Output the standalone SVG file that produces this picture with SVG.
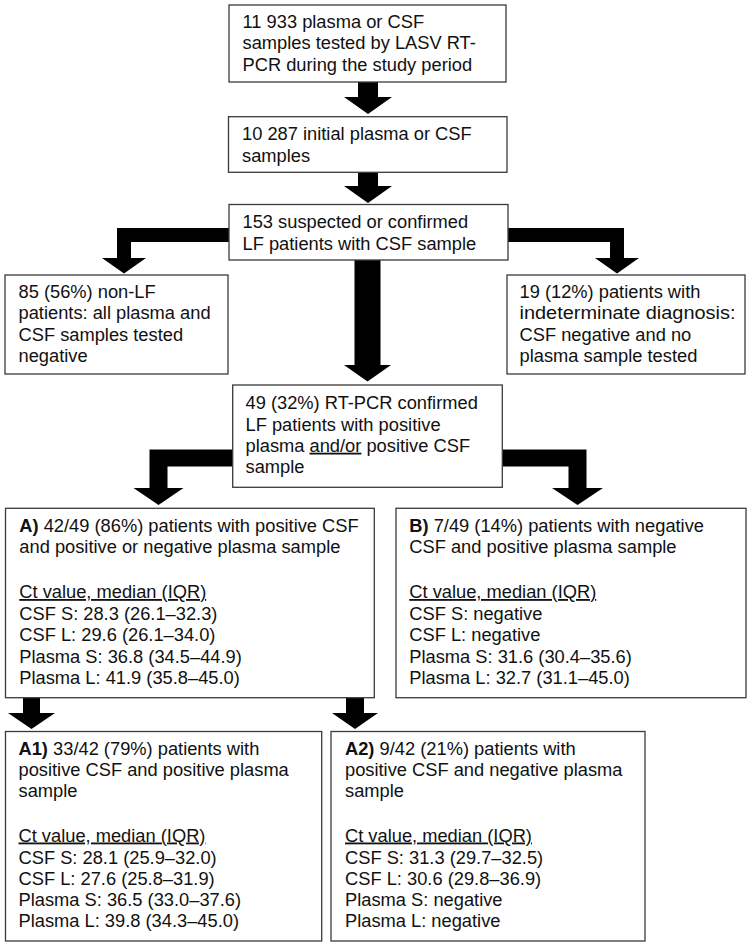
<svg xmlns="http://www.w3.org/2000/svg" width="750" height="946" viewBox="0 0 750 946">
<style>
  .box { fill: #ffffff; stroke: #3a3a3a; stroke-width: 1.3; }
  .t { font-family: "Liberation Sans", Arial, sans-serif; font-size: 18.3px; fill: #111111; }
  .b { font-weight: bold; }
  .u { text-decoration: underline; }
  .arr { fill: #000000; stroke: none; }
</style>
<rect width="750" height="946" fill="#ffffff"/>

<g id="connectors">
  <polygon class="arr" points="358,82 378,82 378,97 392,97 368,114 344,97 358,97"/>
  <polygon class="arr" points="358,172.3 378,172.3 378,186 392,186 368,203 344,186 358,186"/>
  <polygon class="arr" points="229,228 117,228 117,258 102,258 124,273.5 146,258 131,258 131,242 229,242"/>
  <polygon class="arr" points="508,228 624,228 624,258 639,258 617,273.5 595,258 610,258 610,242 508,242"/>
  <polygon class="arr" points="354.5,260 380.5,260 380.5,365 391,365 367.5,381.5 344,365 354.5,365"/>
  <polygon class="arr" points="232.7,449.5 149.5,449.5 149.5,488 133.5,488 158.5,505 183.5,488 167.5,488 167.5,466.5 232.7,466.5"/>
  <polygon class="arr" points="502.3,449.5 586.5,449.5 586.5,488 603,488 577.5,505 552,488 568.5,488 568.5,466.5 502.3,466.5"/>
  <polygon class="arr" points="23,697.7 40,697.7 40,713 55,713 31.5,729 8,713 23,713"/>
  <polygon class="arr" points="346,697.7 364,697.7 364,713 378,713 355,729 332,713 346,713"/>
</g>

<g id="n_tested">
  <rect class="box" x="229" y="5" width="277" height="77"/>
  <text class="t" x="242.5" y="27.7">11 933 plasma or CSF</text>
  <text class="t" x="242.5" y="49.2">samples tested by LASV RT-</text>
  <text class="t" x="242.5" y="70.7">PCR during the study period</text>
</g>

<g id="n_initial">
  <rect class="box" x="228.5" y="116.7" width="278.5" height="55.6"/>
  <text class="t" x="242" y="140">10 287 initial plasma or CSF</text>
  <text class="t" x="242" y="161.5">samples</text>
</g>

<g id="n_suspected">
  <rect class="box" x="229" y="204.5" width="279" height="55.5"/>
  <text class="t" x="242.5" y="228">153 suspected or confirmed</text>
  <text class="t" x="242.5" y="249.5">LF patients with CSF sample</text>
</g>

<g id="n_nonlf">
  <rect class="box" x="5" y="275" width="223" height="99"/>
  <text class="t" x="18.5" y="298">85 (56%) non-LF</text>
  <text class="t" x="18.5" y="319.3">patients: all plasma and</text>
  <text class="t" x="18.5" y="340.6">CSF samples tested</text>
  <text class="t" x="18.5" y="362">negative</text>
</g>

<g id="n_indeterminate">
  <rect class="box" x="507" y="275" width="238" height="99"/>
  <text class="t" x="519.5" y="298">19 (12%) patients with</text>
  <text class="t" x="519.5" y="319.3" textLength="216" lengthAdjust="spacingAndGlyphs">indeterminate diagnosis:</text>
  <text class="t" x="519.5" y="340.6">CSF negative and no</text>
  <text class="t" x="519.5" y="362">plasma sample tested</text>
</g>

<g id="n_confirmed">
  <rect class="box" x="232.7" y="385" width="269.6" height="102.3"/>
  <text class="t" x="245.5" y="409.3">49 (32%) RT-PCR confirmed</text>
  <text class="t" x="245.5" y="430.5">LF patients with positive</text>
  <text class="t" x="245.5" y="451.7">plasma <tspan class="u">and/or</tspan> positive CSF</text>
  <text class="t" x="245.5" y="473">sample</text>
</g>

<g id="n_A">
  <rect class="box" x="5.5" y="508.3" width="368.8" height="189.4"/>
  <text class="t" x="19.3" y="531.7"><tspan class="b">A)</tspan> 42/49 (86%) patients with positive CSF</text>
  <text class="t" x="19.3" y="553">and positive or negative plasma sample</text>
  <text class="t" x="19.3" y="598"><tspan class="u">Ct value, median (IQR)</tspan></text>
  <text class="t" x="19.3" y="620">CSF S: 28.3 (26.1–32.3)</text>
  <text class="t" x="19.3" y="641.3">CSF L: 29.6 (26.1–34.0)</text>
  <text class="t" x="19.3" y="662.6">Plasma S: 36.8 (34.5–44.9)</text>
  <text class="t" x="19.3" y="684">Plasma L: 41.9 (35.8–45.0)</text>
</g>

<g id="n_B">
  <rect class="box" x="396" y="508.3" width="350" height="189.4"/>
  <text class="t" x="409.3" y="531.7"><tspan class="b">B)</tspan> 7/49 (14%) patients with negative</text>
  <text class="t" x="409.3" y="553">CSF and positive plasma sample</text>
  <text class="t" x="409.3" y="598"><tspan class="u">Ct value, median (IQR)</tspan></text>
  <text class="t" x="409.3" y="620">CSF S: negative</text>
  <text class="t" x="409.3" y="641.3">CSF L: negative</text>
  <text class="t" x="409.3" y="662.6">Plasma S: 31.6 (30.4–35.6)</text>
  <text class="t" x="409.3" y="684">Plasma L: 32.7 (31.1–45.0)</text>
</g>

<g id="n_A1">
  <rect class="box" x="5.5" y="731.5" width="316.2" height="209.5"/>
  <text class="t" x="18.5" y="754.5"><tspan class="b">A1)</tspan> 33/42 (79%) patients with</text>
  <text class="t" x="18.5" y="775.8">positive CSF and positive plasma</text>
  <text class="t" x="18.5" y="797.1">sample</text>
  <text class="t" x="18.5" y="841.5"><tspan class="u">Ct value, median (IQR)</tspan></text>
  <text class="t" x="18.5" y="863.5">CSF S: 28.1 (25.9–32.0)</text>
  <text class="t" x="18.5" y="884.8">CSF L: 27.6 (25.8–31.9)</text>
  <text class="t" x="18.5" y="906.1">Plasma S: 36.5 (33.0–37.6)</text>
  <text class="t" x="18.5" y="927.4">Plasma L: 39.8 (34.3–45.0)</text>
</g>

<g id="n_A2">
  <rect class="box" x="331" y="731.5" width="314" height="209.5"/>
  <text class="t" x="345" y="754.5"><tspan class="b">A2)</tspan> 9/42 (21%) patients with</text>
  <text class="t" x="345" y="775.8">positive CSF and negative plasma</text>
  <text class="t" x="345" y="797.1">sample</text>
  <text class="t" x="345" y="841.5"><tspan class="u">Ct value, median (IQR)</tspan></text>
  <text class="t" x="345" y="863.5">CSF S: 31.3 (29.7–32.5)</text>
  <text class="t" x="345" y="884.8">CSF L: 30.6 (29.8–36.9)</text>
  <text class="t" x="345" y="906.1">Plasma S: negative</text>
  <text class="t" x="345" y="927.4">Plasma L: negative</text>
</g>
</svg>
